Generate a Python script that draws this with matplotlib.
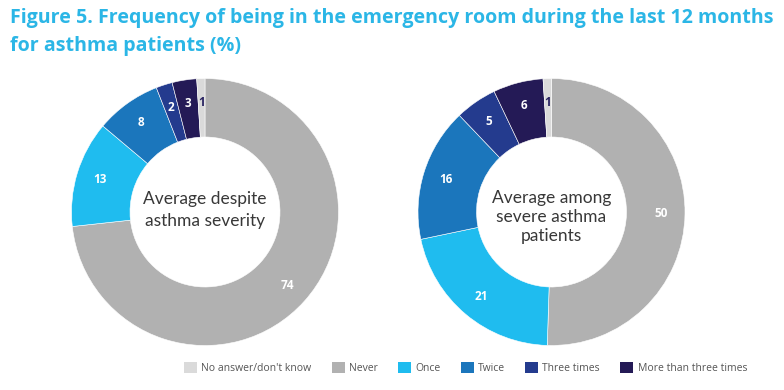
import matplotlib
matplotlib.use("Agg")
import matplotlib.pyplot as plt
import numpy as np
from matplotlib.patches import Patch

# data
categories = ["Never", "Once", "Twice", "Three times", "More than three times", "No answer/don't know"]
avg_all = [74, 13, 8, 2, 3, 1]
avg_severe = [50, 21, 16, 5, 6, 1]
center_labels = ["Average despite\nasthma severity", "Average among\nsevere asthma\npatients"]
legend_order = ["No answer/don't know", "Never", "Once", "Twice", "Three times", "More than three times"]

colors = {
    "Never": "#b1b1b1",
    "Once": "#1fbcef",
    "Twice": "#1b76bc",
    "Three times": "#243b8e",
    "More than three times": "#241a56",
    "No answer/don't know": "#dadada",
}
label_colors = {"No answer/don't know": "#2a2462"}

W, H = 784, 390
fig = plt.figure(figsize=(W / 100, H / 100), dpi=100)
ax = fig.add_axes([0, 0, 1, 1])

R, r_in = 133.5, 75
centers = [(205, H - 212), (551.5, H - 212)]
text_offsets = [2, -5]          # nudge centre text block like the original
text_spacing = [1.4, 1.2]

for vals, (cx, cy), txt, dy, ls in zip([avg_all, avg_severe], centers, center_labels,
                                        text_offsets, text_spacing):
    wedges, _ = ax.pie(vals, colors=[colors[c] for c in categories], startangle=90,
                       counterclock=False, center=(cx, cy), radius=R,
                       wedgeprops=dict(width=R - r_in, edgecolor="white", linewidth=0.4))
    for w, v, cat in zip(wedges, vals, categories):
        ang = np.deg2rad((w.theta1 + w.theta2) / 2)
        lr = 110
        ax.text(cx + lr * np.cos(ang), cy + lr * np.sin(ang), str(v),
                ha="center", va="center", fontsize=8.5, fontweight="bold",
                family="Open Sans", color=label_colors.get(cat, "white"))
    ax.text(cx, cy + dy, txt, ha="center", va="center", fontsize=12.5,
            family="Lato", color="#383838", linespacing=ls)

ax.set_xlim(0, W)
ax.set_ylim(0, H)
ax.set_aspect("equal")
ax.axis("off")

title_kw = dict(ha="left", va="center", fontsize=14.1, fontweight="bold",
                family="Open Sans", color="#2bb6e6")
fig.text(10 / W, 1 - 18 / H,
         "Figure 5. Frequency of being in the emergency room during the last 12 months", **title_kw)
fig.text(10 / W, 1 - 46 / H, "for asthma patients (%)", **title_kw)

handles = [Patch(facecolor=colors[c], edgecolor="none") for c in legend_order]
leg = fig.legend(handles, legend_order, loc="center", bbox_to_anchor=(465.5 / W, 1 - 368 / H),
                 ncol=6, frameon=False, handlelength=1.25, handleheight=1.25,
                 handletextpad=0.4, columnspacing=1.95, prop={"family": "Open Sans", "size": 7.5})
for t in leg.get_texts():
    t.set_color("#555555")

fig.savefig("out.png", dpi=100)
